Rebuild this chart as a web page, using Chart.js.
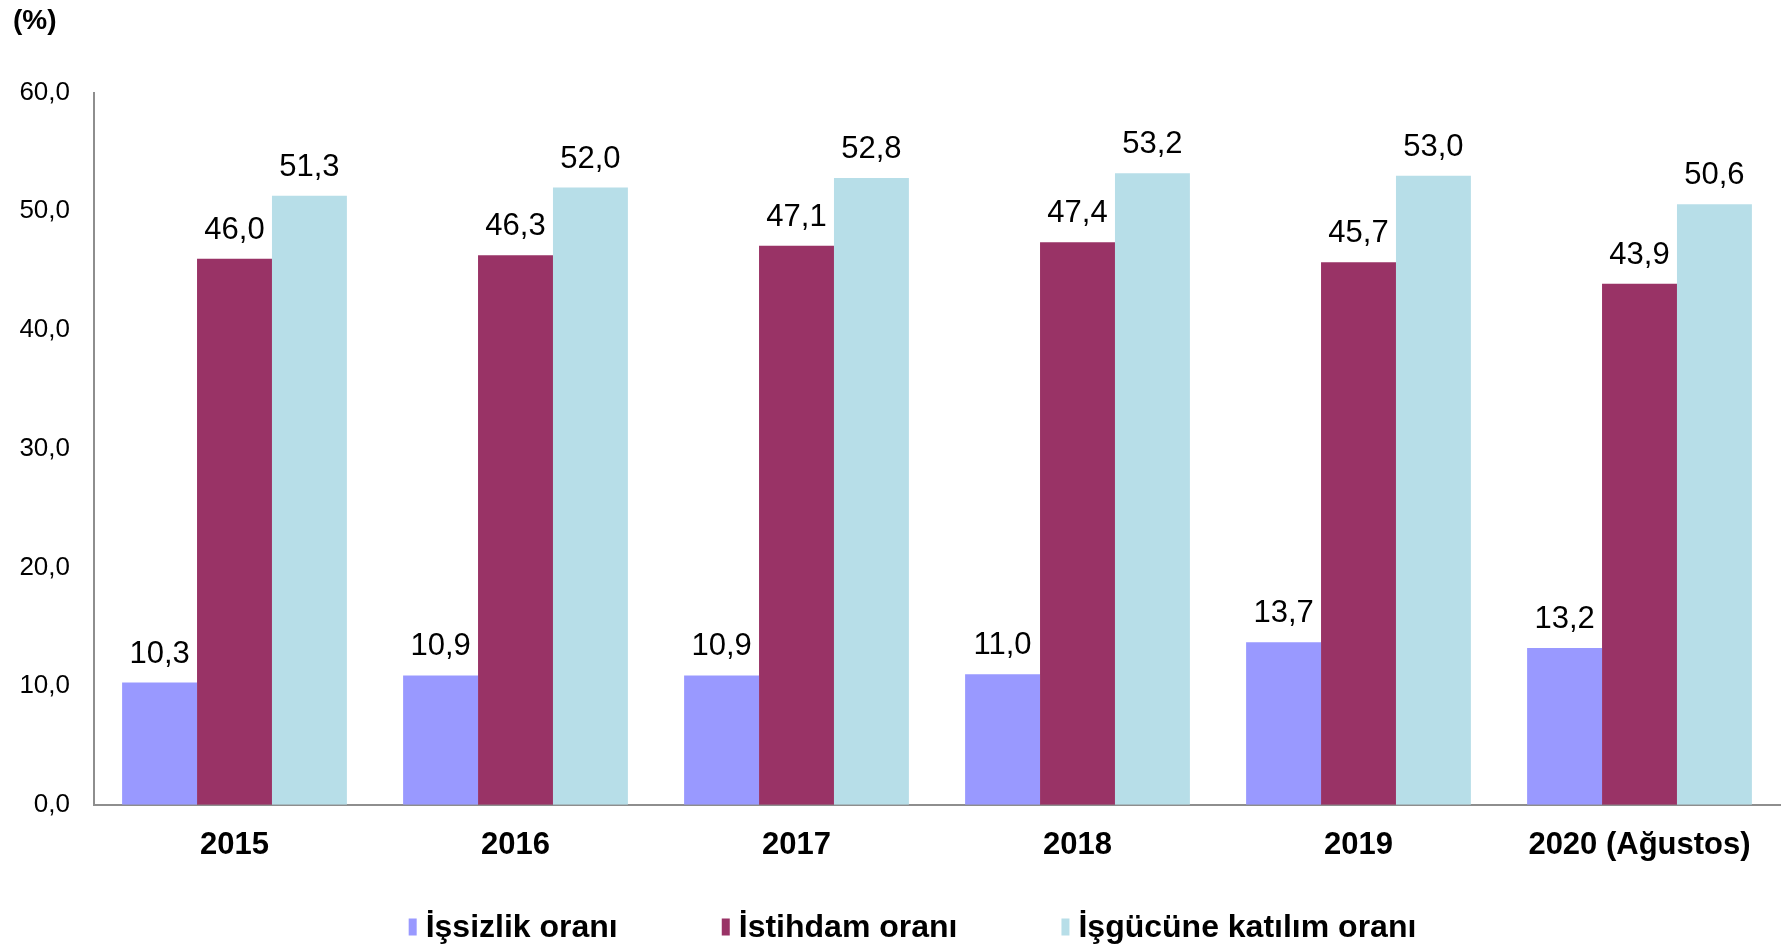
<!DOCTYPE html>
<html>
<head>
<meta charset="utf-8">
<script src="https://cdn.jsdelivr.net/npm/chart.js@4.4.1/dist/chart.umd.min.js"></script>
<style>
    html, body { margin: 0; padding: 0; background: #fff; overflow: hidden; }
    #wrap { width: 1783px; height: 947px; }
</style>
</head>
<body>
<div id="wrap"><canvas id="rateChart"></canvas></div>
<script>
const years = ["2015", "2016", "2017", "2018", "2019", "2020 (Ağustos)"];
const seriesNames = ["İşsizlik oranı", "İstihdam oranı", "İşgücüne katılım oranı"];
const issizlik = [10.3, 10.9, 10.9, 11.0, 13.7, 13.2];
const istihdam = [46.0, 46.3, 47.1, 47.4, 45.7, 43.9];
const isgucu = [51.3, 52.0, 52.8, 53.2, 53.0, 50.6];
const yTicks = [0, 10, 20, 30, 40, 50, 60];

const fmt = (v) => v.toFixed(1).replace(".", ",");

Chart.defaults.font.family = '"Liberation Sans", Arial, sans-serif';
Chart.defaults.color = "#000";

// value labels above bars
const barValueLabels = {
    id: "barValueLabels",
    afterDatasetsDraw(chart) {
        const ctx = chart.ctx;
        ctx.save();
        ctx.font = '31px "Liberation Sans", Arial, sans-serif';
        ctx.fillStyle = "#000";
        ctx.textAlign = "center";
        ctx.textBaseline = "alphabetic";
        chart.data.datasets.forEach((ds, i) => {
            chart.getDatasetMeta(i).data.forEach((bar, j) => {
                ctx.fillText(fmt(ds.data[j]), bar.x, bar.y - 20);
            });
        });
        ctx.restore();
    }
};

// legend at the bottom, narrow boxes, wide gaps
const bottomLegend = {
    id: "bottomLegend",
    afterDraw(chart) {
        const ctx = chart.ctx;
        ctx.save();
        ctx.font = 'bold 32px "Liberation Sans", Arial, sans-serif';
        const items = chart.data.datasets.map(ds => ({
            label: ds.label, color: ds.backgroundColor, w: ctx.measureText(ds.label).width
        }));
        const boxW = 8, boxH = 17, textGap = 9, itemGap = 104;
        const total = items.reduce((s, it) => s + boxW + textGap + it.w, 0) + itemGap * (items.length - 1);
        let x = chart.width / 2 + 21 - total / 2;
        const y = 927;
        ctx.textBaseline = "middle";
        items.forEach(it => {
            ctx.fillStyle = it.color;
            ctx.fillRect(x, y - boxH / 2, boxW, boxH);
            ctx.fillStyle = "#000";
            ctx.fillText(it.label, x + boxW + textGap, y + 1);
            x += boxW + textGap + it.w + itemGap;
        });
        ctx.restore();
    }
};

const ctx = document.getElementById("rateChart").getContext("2d");

new Chart(ctx, {
    type: "bar",
    data: {
        labels: years,
        datasets: [
            { label: seriesNames[0], data: issizlik, backgroundColor: "#9999FF" },
            { label: seriesNames[1], data: istihdam, backgroundColor: "#993366" },
            { label: seriesNames[2], data: isgucu, backgroundColor: "#B7DEE8" },
        ],
    },
    options: {
        responsive: true,
        maintainAspectRatio: false,
        animation: false,
        layout: { padding: { left: 13, right: 3, top: 0, bottom: 61 } },
        datasets: { bar: { categoryPercentage: 0.8, barPercentage: 1.0 } },
        plugins: {
            legend: { display: false },
            tooltip: { enabled: false },
            title: {
                display: true,
                text: "(%)",
                align: "start",
                font: { size: 28, weight: "bold" },
                padding: { top: 4, bottom: 55 },
            },
        },
        scales: {
            x: {
                grid: { display: false, drawTicks: false },
                border: { display: true, color: "#8e8e8e", width: 2 },
                ticks: { font: { size: 31, weight: "bold" }, padding: 22, maxRotation: 0 },
            },
            y: {
                min: 0,
                max: 60,
                afterBuildTicks: (axis) => { axis.ticks = yTicks.map(v => ({ value: v })); },
                afterFit: (axis) => { axis.width = 81; },
                grid: { display: false, drawTicks: false },
                border: { display: true, color: "#8e8e8e", width: 2 },
                ticks: { font: { size: 26 }, padding: 24, callback: (v) => fmt(v) },
            },
        },
    },
    plugins: [barValueLabels, bottomLegend],
});
</script>
</body>
</html>
